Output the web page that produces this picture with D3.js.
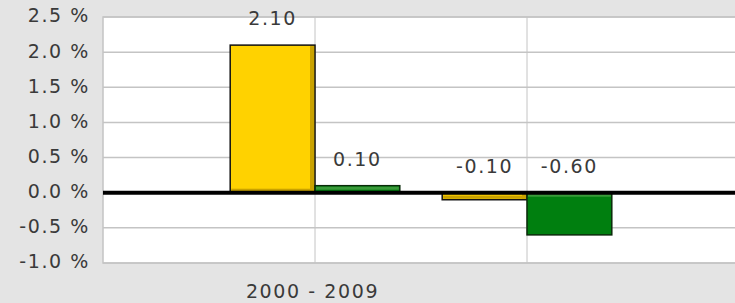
<!DOCTYPE html>
<html lang="en">
<head>
    <meta charset="utf-8">
    <title>Return by decade</title>
    <script src="https://d3js.org/d3.v7.min.js"></script>
    <style>
        body { margin: 0; background: #e4e4e4; }
        svg text { font-family: 'DejaVu Sans', Verdana, sans-serif; fill: #3a3a3a; letter-spacing: 1.6px; }
    </style>
</head>
<body>
<div id="chart"></div>
<script>
/* global d3 */

var categories = ["2000 - 2009", ""];
var seriesA = [2.10, -0.10];   // yellow
var seriesB = [0.10, -0.60];   // green
var yTicks = [2.5, 2.0, 1.5, 1.0, 0.5, 0.0, -0.5, -1.0];

var width = 735,
    height = 303,
    plot = {left: 103, right: 739, top: 17, bottom: 263},
    fontSize = '19px';

var svg = d3.select('#chart')
    .append('svg')
    .attr('width', width)
    .attr('height', height);

svg.append('rect')
    .attr('width', width)
    .attr('height', height)
    .attr('fill', '#e4e4e4');

var x = d3.scalePoint()
    .domain(categories)
    .range([plot.left, plot.right])
    .padding(1);

var y = d3.scaleLinear()
    .domain([-1, 2.5])
    .range([plot.bottom, plot.top]);

var barW = x.step() * 0.4;

// plot background
svg.append('rect')
    .attr('x', plot.left)
    .attr('y', plot.top)
    .attr('width', plot.right - plot.left)
    .attr('height', plot.bottom - plot.top)
    .attr('fill', '#fff')
    .attr('stroke', '#c4c4c4')
    .attr('stroke-width', 1.5);

// horizontal grid
svg.append('g')
    .selectAll('line')
    .data(yTicks)
    .join('line')
    .attr('x1', plot.left)
    .attr('x2', plot.right)
    .attr('y1', function(d) { return y(d); })
    .attr('y2', function(d) { return y(d); })
    .attr('stroke', '#c4c4c4')
    .attr('stroke-width', 1.5);

// vertical grid at categories
svg.append('g')
    .selectAll('line')
    .data(categories)
    .join('line')
    .attr('x1', function(d) { return x(d); })
    .attr('x2', function(d) { return x(d); })
    .attr('y1', plot.top)
    .attr('y2', plot.bottom)
    .attr('stroke', '#c4c4c4')
    .attr('stroke-width', 1);

// y axis labels
var yAxis = d3.axisLeft(y)
    .tickValues(yTicks)
    .tickSize(0)
    .tickPadding(13)
    .tickFormat(function(d) { return d.toFixed(1) + ' %'; });

var ya = svg.append('g')
    .attr('transform', 'translate(' + plot.left + ',0)')
    .call(yAxis);
ya.select('.domain').remove();
ya.selectAll('text')
    .attr('dy', '0.26em')
    .style('font-size', fontSize)
    .style('fill', '#3a3a3a');

// x axis labels
var xAxis = d3.axisBottom(x).tickSize(0).tickPadding(20);
var xa = svg.append('g')
    .attr('transform', 'translate(-3,' + (plot.bottom + 2) + ')')
    .call(xAxis);
xa.select('.domain').remove();
xa.selectAll('text')
    .style('font-size', fontSize)
    .style('fill', '#3a3a3a');

// bars
var bars = [];
categories.forEach(function(c, i) {
    bars.push({cat: c, value: seriesA[i], off: -barW, fill: '#ffd200', shade: '#c9a200', edge: '#111'});
    bars.push({cat: c, value: seriesB[i], off: 0, fill: '#007f0f', shade: '#3a9a3a', edge: '#0a2a0a'});
});

var bg = svg.append('g');

bars.forEach(function(b) {
    var x0 = x(b.cat) + b.off,
        y0 = y(Math.max(0, b.value)),
        h = Math.abs(y(b.value) - y(0));

    bg.append('rect')
        .attr('x', x0)
        .attr('y', y0)
        .attr('width', barW)
        .attr('height', h)
        .attr('fill', b.fill)
        .attr('stroke', b.edge)
        .attr('stroke-width', 1.5);

    if (b.fill === '#ffd200') {
        // darker right and bottom edge
        bg.append('rect')
            .attr('x', x0 + barW - 5)
            .attr('y', y0 + 1)
            .attr('width', 4)
            .attr('height', Math.max(0, h - 2))
            .attr('fill', b.shade);
        bg.append('rect')
            .attr('x', x0 + 1)
            .attr('y', y0 + h - 4)
            .attr('width', barW - 2)
            .attr('height', h > 6 ? 3 : 0)
            .attr('fill', b.shade);
    } else {
        // lighter top strip
        bg.append('rect')
            .attr('x', x0 + 1)
            .attr('y', y0 + 1)
            .attr('width', barW - 2)
            .attr('height', Math.min(3, Math.max(0, h - 2)))
            .attr('fill', b.shade);
    }
});

// zero line
svg.append('line')
    .attr('x1', plot.left)
    .attr('x2', plot.right)
    .attr('y1', y(0))
    .attr('y2', y(0))
    .attr('stroke', '#000')
    .attr('stroke-width', 4);

// value labels
svg.append('g')
    .selectAll('text')
    .data(bars)
    .join('text')
    .attr('x', function(d) { return x(d.cat) + d.off + barW / 2; })
    .attr('y', function(d) { return y(Math.max(0, d.value)) - 20; })
    .attr('text-anchor', 'middle')
    .style('font-size', fontSize)
    .text(function(d) { return d.value.toFixed(2); });
</script>
</body>
</html>
